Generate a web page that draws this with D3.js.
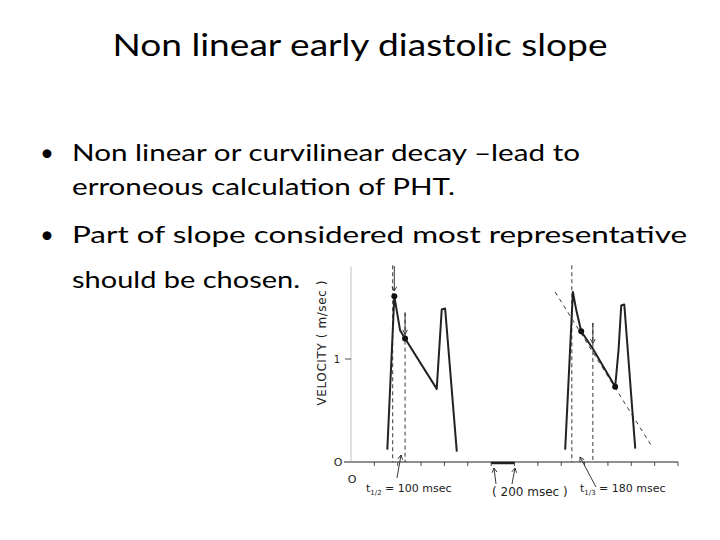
<!DOCTYPE html>
<html><head><meta charset="utf-8">
<script src="https://cdn.jsdelivr.net/npm/d3@7"></script>
<style>body{margin:0;background:#fff}</style>
</head><body>
<div id="slide"></div>
<script>
// slide text
var title = "Non linear early diastolic slope";
var bullets = [
  ["Non linear or curvilinear decay \u2013lead to", "erroneous calculation of PHT."],
  ["Part of slope considered most representative", "should be chosen."]
];
// doppler traces: time (msec), velocity (m/sec)
var trace1 = [[311,0.12],[371,1.61],[420,1.28],[463,1.20],[734,0.71],[777,1.48],[806,1.49],[906,0.10]];
var trace2 = [[1834,0.12],[1900,1.65],[1928,1.48],[1971,1.27],[2071,1.10],[2262,0.73],[2291,1.09],[2314,1.52],[2340,1.53],[2434,0.13]];
var slopeLine = [[1748,1.65],[2577,0.15]];
var dots = [[371,1.61],[463,1.20],[1971,1.27],[2262,0.73]];
var dashV = [[357,1.91],[463,1.45],[1891,1.91],[2071,1.35]];
var xTicks = d3.range(200, 2801, 200);

var W = 720, H = 540;
var svg = d3.select("#slide").append("svg").attr("width", W).attr("height", H);
var font = "Lato, 'Liberation Sans', sans-serif";

svg.append("text").attr("x", 360).attr("y", 56).attr("text-anchor", "middle")
  .attr("font-family", font).attr("font-size", 31).attr("textLength", 495)
  .attr("lengthAdjust", "spacingAndGlyphs").text(title);

var lineY = [[161,195],[243,288]];
var lineW = [[508,383],[615,228]];
bullets.forEach(function (b, i) {
  svg.append("text").attr("x", 40).attr("y", lineY[i][0]).attr("font-family", font)
    .attr("font-size", 24).text("\u2022");
  b.forEach(function (t, j) {
    svg.append("text").attr("x", 72).attr("y", lineY[i][j]).attr("font-family", font)
      .attr("font-size", 24).attr("textLength", lineW[i][j])
      .attr("lengthAdjust", "spacingAndGlyphs").text(t);
  });
});

// figure
var x = d3.scaleLinear().domain([0, 2800]).range([351, 678]);
var y = d3.scaleLinear().domain([0, 1]).range([462, 359]);
var g = svg.append("g").attr("stroke", "#222").attr("fill", "none");

g.append("line").attr("x1", 344).attr("x2", 678).attr("y1", y(0)).attr("y2", y(0)).attr("stroke-width", 1.2);
g.append("line").attr("x1", x(0)).attr("x2", x(0)).attr("y1", y(0)).attr("y2", y(1.9)).attr("stroke", "#999").attr("stroke-width", 0.6);
g.selectAll(".xt").data(xTicks).enter().append("line")
  .attr("x1", d => x(d)).attr("x2", d => x(d)).attr("y1", y(0)).attr("y2", y(0) + 4).attr("stroke-width", 0.8);
g.append("line").attr("x1", x(0) - 6).attr("x2", x(0)).attr("y1", y(1)).attr("y2", y(1)).attr("stroke-width", 0.8);
g.append("line").attr("x1", x(1200)).attr("x2", x(1400)).attr("y1", y(0) + 1).attr("y2", y(0) + 1).attr("stroke-width", 2.5);

var line = d3.line().x(d => x(d[0])).y(d => y(d[1]));
[trace1, trace2].forEach(function (t) {
  g.append("path").attr("d", line(t)).attr("stroke-width", 2).attr("stroke-linejoin", "round");
});
g.append("path").attr("d", line(slopeLine)).attr("stroke-width", 0.9).attr("stroke-dasharray", "4,4");
g.selectAll(".dv").data(dashV).enter().append("line")
  .attr("x1", d => x(d[0])).attr("x2", d => x(d[0])).attr("y1", d => y(d[1])).attr("y2", y(0))
  .attr("stroke-width", 0.9).attr("stroke-dasharray", "4,3");
svg.selectAll(".dot").data(dots).enter().append("circle")
  .attr("cx", d => x(d[0])).attr("cy", d => y(d[1])).attr("r", 3).attr("fill", "#111");

// arrows
function arrow(x0, y0, x1, y1) {
  g.append("line").attr("x1", x0).attr("y1", y0).attr("x2", x1).attr("y2", y1).attr("stroke-width", 0.9);
  var a = Math.atan2(y1 - y0, x1 - x0), s = 5;
  g.append("path").attr("stroke-width", 0.9).attr("d",
    "M" + (x1 - s * Math.cos(a - 0.5)) + "," + (y1 - s * Math.sin(a - 0.5)) + "L" + x1 + "," + y1 +
    "L" + (x1 - s * Math.cos(a + 0.5)) + "," + (y1 - s * Math.sin(a + 0.5)));
}
arrow(x(371), 266, x(371), y(1.66));
arrow(x(463), y(1.45), x(463), y(1.24));
arrow(x(2071), y(1.35), x(2071), y(1.15));
arrow(397, 478, 401, 455);
arrow(496, 484, 494, 468);
arrow(512, 484, 515, 468);
arrow(596, 487, 580, 457);

var lab = svg.append("g").attr("font-family", "'DejaVu Sans', sans-serif").attr("fill", "#222");
lab.append("text").attr("transform", "translate(326,343) rotate(-90)").attr("text-anchor", "middle")
  .attr("font-size", 12).attr("textLength", 125).attr("lengthAdjust", "spacing").text("VELOCITY   ( m/sec )");
lab.append("text").attr("x", 338).attr("y", 466).attr("text-anchor", "middle").attr("font-size", 11).text("O");
lab.append("text").attr("x", 352).attr("y", 483).attr("text-anchor", "middle").attr("font-size", 11).text("O");
lab.append("text").attr("x", 337).attr("y", 363).attr("text-anchor", "middle").attr("font-size", 10).text("1");
var t1 = lab.append("text").attr("x", 366).attr("y", 492).attr("font-size", 11);
t1.append("tspan").text("t");
t1.append("tspan").attr("font-size", 7).attr("dy", 3).text("1/2");
t1.append("tspan").attr("dy", -3).text(" = 100 msec");
lab.append("text").attr("x", 492).attr("y", 496).attr("font-size", 12).text("( 200  msec )");
var t2 = lab.append("text").attr("x", 580).attr("y", 492).attr("font-size", 11);
t2.append("tspan").text("t");
t2.append("tspan").attr("font-size", 7).attr("dy", 3).text("1/3");
t2.append("tspan").attr("dy", -3).text(" = 180 msec");
</script>
</body></html>
